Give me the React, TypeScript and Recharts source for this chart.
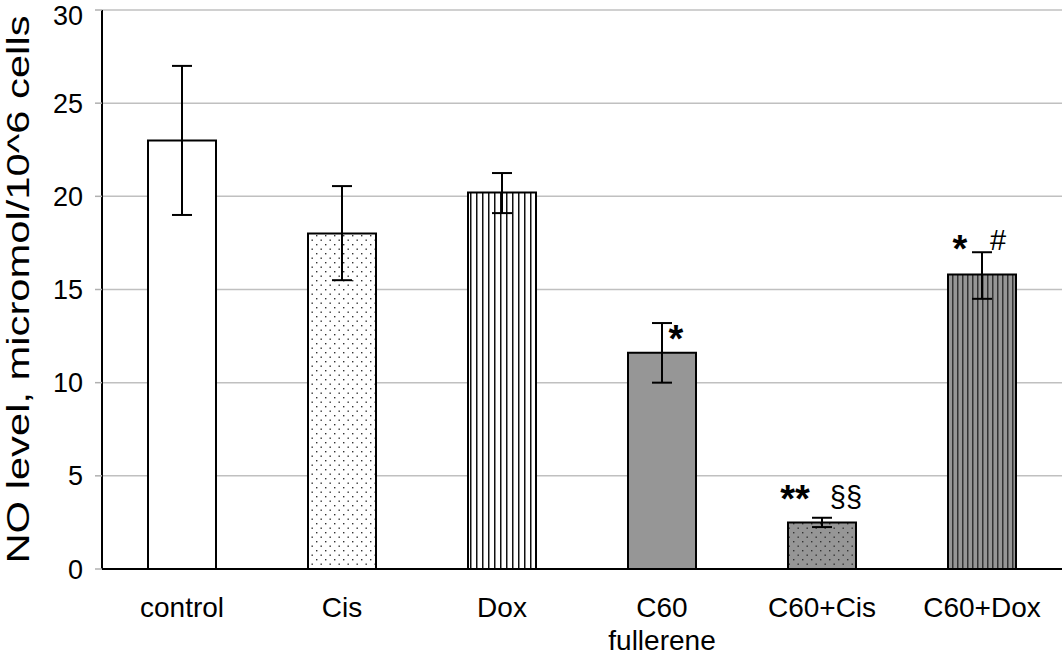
import React from 'react';
import {
    BarChart,
    Bar,
    XAxis,
    YAxis,
    CartesianGrid,
    ErrorBar,
    Cell,
    LabelList
} from 'recharts';

document.body.style.margin = '0';

// values
const categories = ['control', 'Cis', 'Dox', 'C60\nfullerene', 'C60+Cis', 'C60+Dox'];
const noLevel = [23.0, 18.0, 20.2, 11.6, 2.5, 15.8];
const errMinus = [4.0, 2.5, 1.1, 1.6, 0.25, 1.3];
const errPlus = [4.0, 2.55, 1.05, 1.6, 0.25, 1.2];
const starMarks = ['', '', '', '*', '**', '*'];
const otherMarks = ['', '', '', '', '§§', '#'];
const yTicks = [0, 5, 10, 15, 20, 25, 30];
const boundaryTicks = [0, 1, 2, 3, 4, 5, 6];

const fills = [
    '#ffffff',
    'url(#dotsWhite)',
    'url(#linesWhite)',
    '#969696',
    'url(#dotsGray)',
    'url(#linesGray)'
];

const data = categories.map((name, i) => ({
    name,
    value: noLevel[i],
    err: [errMinus[i], errPlus[i]],
    star: starMarks[i],
    other: otherMarks[i]
}));

const font = 'Arial, "Liberation Sans", sans-serif';

function CategoryTick(props: any) {
    const { x, y, payload } = props;
    const lines = String(payload.value).split('\n');
    return (
        <g transform={`translate(${x},${y})`}>
            {lines.map((line, i) => (
                <text
                    key={i}
                    x={0}
                    y={40 + i * 33}
                    textAnchor="middle"
                    fill="#000"
                    fontSize={28}
                    fontFamily={font}
                >
                    {line}
                </text>
            ))}
        </g>
    );
}

// star marks sit to the left/right of the error bar depending on bar
function MarkLabel(props: any) {
    const { x, width, index, value } = props;
    if (!value) return null;
    const cx = x + width / 2;
    let tx = cx, ty = 0;
    if (index === 3) { tx = cx + 14; ty = 352; }
    if (index === 4) { tx = cx - 27; ty = 512; }
    if (index === 5) { tx = cx - 22; ty = 262; }
    return (
        <text x={tx} y={ty} textAnchor="middle" fontSize={38} fontWeight="bold" fontFamily={font} fill="#000">
            {value}
        </text>
    );
}

function OtherLabel(props: any) {
    const { x, width, index, value } = props;
    if (!value) return null;
    const cx = x + width / 2;
    let tx = cx, ty = 0;
    if (index === 4) { tx = cx + 24; ty = 507; }
    if (index === 5) { tx = cx + 16; ty = 250; }
    return (
        <text x={tx} y={ty} textAnchor="middle" fontSize={29} fontFamily={font} fill="#000">
            {value}
        </text>
    );
}

function YTitle(props: any) {
    const { viewBox } = props;
    const cy = viewBox.y + viewBox.height / 2;
    return (
        <text
            x={0}
            y={0}
            transform={`translate(29,${cy}) rotate(-90)`}
            textAnchor="middle"
            fontSize={32}
            fontFamily={font}
            fill="#000"
            textLength={548}
            lengthAdjust="spacingAndGlyphs"
        >
            NO level, micromol/10^6 cells
        </text>
    );
}

export default function App() {
    return (
        <div style={{ width: 1063, height: 656, background: '#fff' }}>
            <BarChart
                width={1063}
                height={656}
                data={data}
                margin={{ top: 10, right: 1, left: 0, bottom: 0 }}
                barCategoryGap={0}
            >
                <defs>
                    <pattern id="dotsWhite" width="9" height="9" patternUnits="userSpaceOnUse">
                        <rect width="9" height="9" fill="#fff" />
                        <rect x="1" y="1" width="1.4" height="1.4" fill="#333" />
                        <rect x="5.5" y="5.5" width="1.4" height="1.4" fill="#333" />
                    </pattern>
                    <pattern id="dotsGray" width="9" height="9" patternUnits="userSpaceOnUse">
                        <rect width="9" height="9" fill="#969696" />
                        <rect x="1" y="1" width="1.4" height="1.4" fill="#333" />
                        <rect x="5.5" y="5.5" width="1.4" height="1.4" fill="#333" />
                    </pattern>
                    <pattern id="linesWhite" width="6" height="6" patternUnits="userSpaceOnUse">
                        <rect width="6" height="6" fill="#fff" />
                        <rect x="2" y="0" width="1.5" height="6" fill="#111" />
                    </pattern>
                    <pattern id="linesGray" width="5" height="5" patternUnits="userSpaceOnUse">
                        <rect width="5" height="5" fill="#969696" />
                        <rect x="2" y="0" width="1.5" height="5" fill="#333" />
                    </pattern>
                </defs>

                <CartesianGrid vertical={false} stroke="#c0c0c0" strokeWidth={1.5} />

                <XAxis
                    dataKey="name"
                    height={87}
                    tickLine={false}
                    axisLine={{ stroke: '#000', strokeWidth: 2 }}
                    tick={<CategoryTick />}
                    interval={0}
                />
                <XAxis
                    xAxisId="bounds"
                    type="number"
                    domain={[0, 6]}
                    ticks={boundaryTicks}
                    allowDataOverflow
                    height={0}
                    axisLine={false}
                    tick={false}
                    tickLine={{ stroke: '#b0b0b0', strokeWidth: 1.5 }}
                    tickSize={8}
                />

                <YAxis
                    domain={[0, 30]}
                    ticks={yTicks}
                    width={102}
                    axisLine={{ stroke: '#000', strokeWidth: 2 }}
                    tickLine={{ stroke: '#b0b0b0', strokeWidth: 1.5 }}
                    tickSize={7}
                    tick={{ fill: '#000', fontSize: 27, fontFamily: font, dx: -10 }}
                    label={{ content: <YTitle /> }}
                />

                <Bar
                    dataKey="value"
                    barSize={68}
                    stroke="#000"
                    strokeWidth={2}
                    isAnimationActive={false}
                >
                    {data.map((entry, index) => (
                        <Cell key={`cell-${index}`} fill={fills[index]} />
                    ))}
                    <ErrorBar dataKey="err" width={10} stroke="#000" strokeWidth={2} direction="y" />
                    <LabelList dataKey="star" content={<MarkLabel />} />
                    <LabelList dataKey="other" content={<OtherLabel />} />
                </Bar>
            </BarChart>
        </div>
    );
}
